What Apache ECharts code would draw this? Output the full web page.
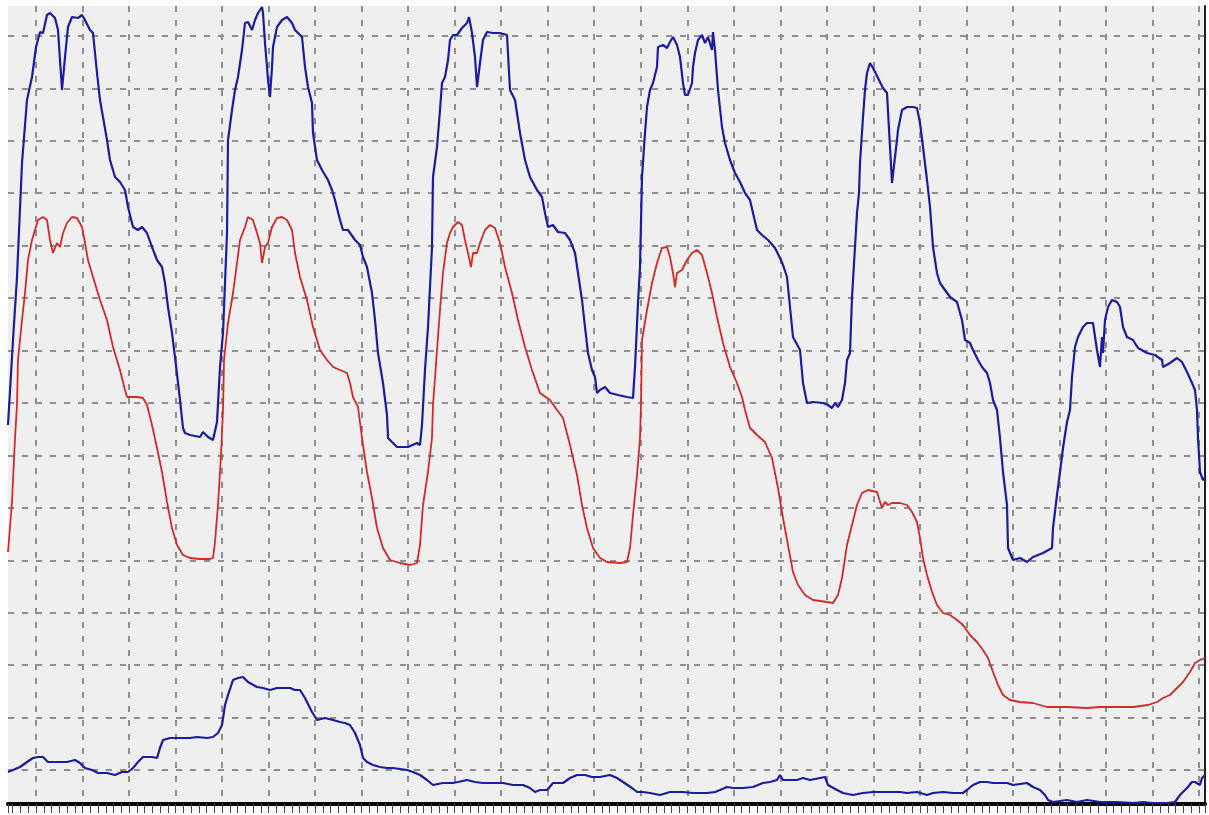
<!DOCTYPE html>
<html>
<head>
<meta charset="utf-8">
<script src="https://cdn.jsdelivr.net/npm/echarts@6/dist/echarts.min.js"></script>
<style>
html,body{margin:0;padding:0;background:#fff;}
#chart{width:1209px;height:815px;}
</style>
</head>
<body>
<div id="chart"></div>
<script>
// Upper blue trace (sample position, level)
const blueUpperX = [8,13,17,22,27,32,36,40,43,47,50,55,58,60,62,65,68,72,78,82,85,90,93,97,100,107,110,115,120,125,128,133,138,142,147,152,157,162,165,168,172,175,180,183,185,190,200,203,208,213,215,217,220,223,227,228,232,235,238,242,245,248,252,255,258,262,263,265,267,268,270,272,273,277,282,287,292,295,298,302,305,308,312,313,317,322,328,332,335,340,343,348,355,360,363,367,372,375,378,383,387,388,397,408,417,420,422,425,428,432,433,437,440,442,445,448,450,453,457,462,467,469,472,475,477,480,483,487,493,500,507,510,515,520,525,530,537,542,545,548,553,558,565,570,575,578,582,585,588,592,595,597,600,605,610,618,627,633,635,638,640,642,645,647,650,653,657,658,663,667,670,673,677,680,683,685,688,692,693,695,698,702,705,708,712,713,715,718,722,725,730,735,740,745,750,753,757,762,768,775,780,783,787,790,793,800,803,807,813,823,828,832,835,838,842,845,847,850,852,855,857,859,860,863,865,867,870,873,878,883,887,890,892,895,897,898,902,907,913,917,920,923,927,930,933,937,940,945,950,957,962,965,970,973,978,982,987,990,993,997,1000,1003,1007,1008,1013,1020,1027,1033,1043,1052,1053,1057,1060,1063,1067,1070,1072,1075,1078,1083,1087,1093,1097,1100,1102,1103,1105,1108,1112,1117,1120,1123,1127,1133,1138,1147,1155,1162,1163,1170,1177,1182,1187,1192,1195,1197,1198,1200,1203,1205];
const blueUpperY = [379,464,527,641,704,727,757,772,771,789,791,786,774,744,714,747,777,787,786,789,784,774,771,731,704,664,644,627,622,614,597,577,574,577,571,557,544,537,521,497,471,447,404,376,371,369,367,372,367,364,362,382,437,471,571,664,694,714,727,754,781,782,774,784,791,797,791,761,737,724,707,737,757,777,784,787,781,774,771,767,737,717,701,671,644,634,624,614,604,584,574,574,564,559,547,537,511,484,451,421,389,366,357,357,361,359,379,434,477,557,627,657,694,721,727,744,764,769,769,776,781,787,771,747,717,741,764,772,771,771,769,714,704,671,644,627,614,607,591,577,579,572,571,564,551,531,504,477,451,434,427,411,414,417,411,409,407,406,437,501,537,627,671,697,714,721,737,757,759,756,762,767,759,747,721,709,709,721,737,751,764,769,761,767,754,772,754,714,677,661,644,631,622,611,604,591,574,569,564,556,546,539,527,497,467,454,421,401,402,401,399,396,401,397,404,421,444,451,507,557,591,611,641,687,714,731,741,736,726,716,711,657,621,647,664,674,694,697,697,696,681,657,624,597,557,531,521,514,507,502,484,464,461,454,444,437,431,421,404,394,366,332,299,256,244,246,242,247,251,256,276,309,332,356,382,394,427,457,467,477,481,481,454,437,467,451,484,497,504,502,497,477,467,464,456,451,449,444,437,441,446,442,432,421,414,394,366,332,324,326];

// Red trace
const redX = [8,12,15,17,18,22,25,28,32,35,38,43,47,50,53,57,60,63,67,72,77,82,85,88,93,100,107,113,120,125,127,137,143,147,152,157,162,167,172,177,183,190,200,210,213,215,218,221,223,224,228,233,237,240,245,248,253,257,260,262,265,268,272,277,282,287,292,295,300,307,313,320,327,333,340,347,350,353,358,362,367,372,377,383,390,400,410,417,420,423,428,432,433,437,440,443,447,450,453,458,462,465,468,471,473,477,480,485,490,495,500,505,512,518,525,532,540,550,557,563,570,577,582,587,593,600,607,620,627,630,633,637,640,641,642,647,652,657,662,667,670,673,675,677,682,687,692,697,702,707,712,717,723,730,737,742,745,750,757,765,772,778,783,788,793,798,805,813,827,833,838,842,847,852,857,862,868,877,882,885,888,892,900,907,912,917,920,923,927,932,937,943,950,957,963,970,977,983,988,993,998,1003,1010,1020,1033,1047,1067,1087,1100,1117,1133,1148,1157,1163,1170,1177,1183,1190,1195,1200,1205];
const redY = [252,302,366,399,444,484,511,544,564,574,584,587,584,564,551,561,557,571,581,587,586,577,561,544,527,504,484,457,434,414,407,407,406,399,379,356,332,302,276,259,249,246,245,245,246,262,299,349,394,444,481,511,541,564,577,587,584,571,561,541,557,561,577,586,587,584,574,551,527,504,477,454,444,437,434,431,421,407,397,366,332,306,276,256,244,241,239,241,259,299,332,366,399,454,494,531,561,571,577,582,579,564,551,537,551,551,561,574,579,576,561,537,511,484,457,434,411,404,394,386,359,329,299,276,256,246,242,241,242,256,289,329,366,399,464,494,521,541,556,557,547,531,517,531,534,544,551,554,549,531,511,487,461,437,421,407,394,376,369,362,346,316,286,259,232,219,209,204,202,201,209,226,259,279,299,311,314,312,296,302,299,301,301,299,292,282,266,246,229,212,199,191,189,184,179,169,162,154,146,132,119,109,104,102,101,97,97,96,97,97,97,99,102,106,109,116,122,132,141,144,146];

// Lower blue trace
const blueLowerX = [8,13,20,27,33,38,43,48,57,67,75,80,85,92,98,107,115,122,128,133,138,143,152,157,160,163,170,180,190,197,207,213,218,222,225,228,233,238,243,248,257,263,270,277,290,295,300,305,312,317,325,333,340,345,350,355,360,363,367,373,380,387,393,400,407,413,420,427,433,443,453,458,467,475,483,493,503,513,523,530,535,540,547,553,563,570,577,585,592,600,610,617,623,632,637,643,650,660,670,683,693,707,715,720,727,733,743,753,763,770,777,780,783,790,797,803,810,820,825,828,837,843,853,863,873,887,900,907,917,927,933,943,953,963,967,973,980,987,993,1000,1007,1013,1027,1033,1040,1045,1048,1053,1067,1077,1087,1100,1117,1133,1143,1153,1167,1175,1180,1187,1192,1195,1200,1202,1205];
const blueLowerY = [32,34,37,42,46,47,47,42,42,42,44,41,36,34,31,31,29,32,32,36,42,47,47,46,56,64,66,66,66,67,66,67,71,79,99,109,124,126,127,122,117,116,114,116,116,114,114,106,92,84,86,84,82,81,79,71,59,46,42,39,37,36,36,35,34,32,29,24,19,21,21,22,24,22,21,21,21,19,19,16,12,14,14,21,21,26,29,29,27,27,29,26,22,16,12,12,11,9,12,12,11,11,12,14,17,16,16,17,21,22,24,29,24,24,24,26,24,26,27,19,14,11,9,11,12,12,12,11,12,9,11,12,11,11,14,19,22,22,21,21,21,19,21,17,14,9,4,2,4,2,4,2,2,1,2,1,1,2,9,16,22,22,19,26,29];

function pairs(xs, ys) { return xs.map((x, i) => [x, ys[i]]); }

const chart = echarts.init(document.getElementById('chart'), null, {renderer: 'canvas'});
const gridDash = {color: '#8f8f8f', width: 2, type: [6, 8]};
chart.setOption({
  animation: false,
  backgroundColor: '#ffffff',
  grid: {left: 8, right: 4, top: 6, bottom: 11, show: true, backgroundColor: '#efefef', borderWidth: 0},
  xAxis: [
    {type: 'value', min: 8, max: 1205, position: 'top',
     axisLine: {show: true, lineStyle: {color: '#111', width: 3}},
     axisTick: {show: false}, axisLabel: {show: false}, splitLine: {show: false}},
    {type: 'value', min: -0.602, max: 25.13, minInterval: 1, maxInterval: 1, splitNumber: 26, position: 'bottom',
     axisLine: {show: true, onZero: false, lineStyle: {color: '#000', width: 4}},
     axisTick: {show: true, inside: false, length: 9, lineStyle: {color: '#444', width: 1}},
     minorTick: {show: true, splitNumber: 6, length: 9, lineStyle: {color: '#444', width: 1}},
     axisLabel: {show: false},
     splitLine: {show: true, showMinLine: false, showMaxLine: false, lineStyle: gridDash}}
  ],
  yAxis: [
    {type: 'value', min: 0, max: 798, position: 'right',
     axisLine: {show: true, onZero: false, lineStyle: {color: '#222', width: 2}},
     axisTick: {show: false}, axisLabel: {show: false}, splitLine: {show: false}},
    {type: 'value', min: -0.648, max: 14.57, minInterval: 1, maxInterval: 1, splitNumber: 15, position: 'left',
     axisLine: {show: false}, axisTick: {show: false}, axisLabel: {show: false},
     splitLine: {show: true, showMinLine: false, showMaxLine: false, lineStyle: gridDash}}
  ],
  series: [
    {type: 'line', xAxisIndex: 0, yAxisIndex: 0, data: pairs(redX, redY), showSymbol: false,
     lineStyle: {color: '#d42a2a', width: 1.8}, z: 3},
    {type: 'line', xAxisIndex: 0, yAxisIndex: 0, data: pairs(blueUpperX, blueUpperY), showSymbol: false,
     lineStyle: {color: '#1c1ca0', width: 2.2}, z: 4},
    {type: 'line', xAxisIndex: 0, yAxisIndex: 0, data: pairs(blueLowerX, blueLowerY), showSymbol: false,
     lineStyle: {color: '#1c1ca0', width: 2.2}, z: 4}
  ]
});
</script>
</body>
</html>
